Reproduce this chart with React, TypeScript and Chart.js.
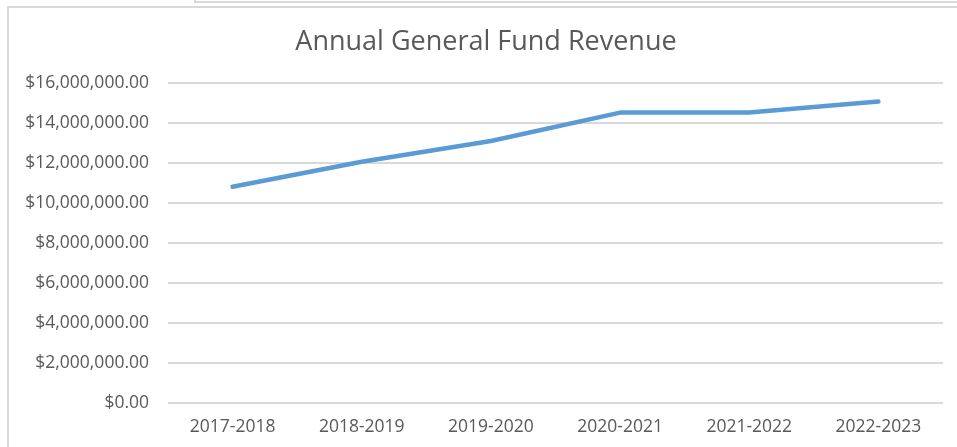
import React, { useEffect, useRef } from "react";
import { Chart, registerables } from "chart.js";

Chart.register(...registerables);

const categories = ["2017-2018", "2018-2019", "2019-2020", "2020-2021", "2021-2022", "2022-2023"];
const revenue = [10815000, 12060000, 13100000, 14520000, 14520000, 15070000];
const yMin = 0;
const yMax = 16000000;
const yStep = 2000000;
const chartTitle = "Annual General Fund Revenue";

const fmt = (v: number) =>
  "$" + v.toLocaleString("en-US", { minimumFractionDigits: 2, maximumFractionDigits: 2 });

const FONT = "'Open Sans', sans-serif";

const titlePlugin = {
  id: "excelTitle",
  afterDraw(chart: any) {
    const ctx = chart.ctx;
    ctx.save();
    ctx.font = `normal 27px ${FONT}`;
    ctx.fillStyle = "#595959";
    ctx.textAlign = "center";
    ctx.textBaseline = "middle";
    ctx.fillText(chartTitle, 486, 42);
    ctx.restore();
  },
};

export default function App() {
  const ref = useRef<HTMLCanvasElement | null>(null);
  useEffect(() => {
    if (!ref.current) return;
    const chart = new Chart(ref.current, {
      type: "line",
      data: {
        labels: categories,
        datasets: [
          {
            data: revenue,
            borderColor: "#5b9bd5",
            borderWidth: 4.5,
            borderCapStyle: "round",
            borderJoinStyle: "round",
            pointRadius: 0,
            tension: 0,
            fill: false,
          },
        ],
      },
      plugins: [titlePlugin],
      options: {
        responsive: false,
        animation: false,
        devicePixelRatio: 1,
        layout: { padding: { left: 0, right: 14, top: 83, bottom: 0 } },
        plugins: {
          legend: { display: false },
          tooltip: { enabled: false },
          title: { display: false },
        },
        scales: {
          x: {
            offset: true,
            grid: { display: false, drawTicks: false },
            border: { display: false },
            ticks: {
              color: "#595959",
              font: { family: FONT, size: 17.5 },
              padding: 14,
              maxRotation: 0,
            },
            afterFit: (s: any) => {
              s.height = 44;
            },
          },
          y: {
            min: yMin,
            max: yMax,
            grid: { color: "#d9d9d9", lineWidth: 2, drawTicks: false },
            border: { display: false },
            ticks: {
              stepSize: yStep,
              color: "#595959",
              font: { family: FONT, size: 17.5 },
              padding: 19,
              callback: (v: any) => fmt(Number(v)),
            },
            afterFit: (s: any) => {
              s.width = 168;
            },
          },
        },
      },
    });
    return () => chart.destroy();
  }, []);
  return (
    <div style={{ position: "fixed", left: 0, top: 0, width: 957, height: 447, background: "#fff", overflow: "hidden" }}>
      <canvas ref={ref} width={957} height={447} style={{ position: "absolute", left: 0, top: 0 }} />
      <div
        style={{
          position: "absolute",
          left: 7,
          top: 6,
          width: 1000,
          height: 500,
          border: "2px solid #d9d9d9",
          boxSizing: "border-box",
          pointerEvents: "none",
        }}
      />
      <div
        style={{
          position: "absolute",
          left: 194,
          top: -20,
          width: 1000,
          height: 23,
          border: "2px solid #d9d9d9",
          boxSizing: "border-box",
          pointerEvents: "none",
        }}
      />
    </div>
  );
}
